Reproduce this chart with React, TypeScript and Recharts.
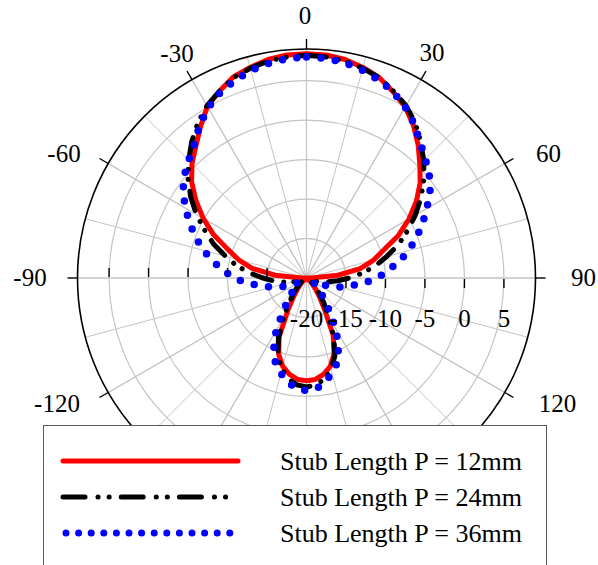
import React from "react";
import {
  RadarChart,
  Radar,
  PolarGrid,
  PolarAngleAxis,
  PolarRadiusAxis,
} from "recharts";

// angle in degrees, clockwise from the top
const angles = [
  0, 5, 10, 15, 20, 25, 30, 35, 40, 45, 50, 55, 60, 65, 70, 75, 80, 85,
  90, 95, 100, 105, 110, 115, 120, 125, 130, 135, 140, 145, 150, 155, 160, 165, 170, 175,
  180, 185, 190, 195, 200, 205, 210, 215, 220, 225, 230, 235, 240, 245, 250, 255, 260, 265,
  270, 275, 280, 285, 290, 295, 300, 305, 310, 315, 320, 325, 330, 335, 340, 345, 350, 355,
];

// gain in dB
const stub12 = [
  8.4, 8.35, 8.1, 7.6, 7.0, 6.0, 5.0, 3.6, 2.0, 0.3, -1.2, -3.0, -5.0, -7.1, -9.6, -11.2, -13.1, -16.0,
  -19.4, -20, -20, -20, -20, -20, -20, -19.8, -19.5, -19.0, -18.2, -17.2, -15.5, -12.0, -9.8, -8.4, -7.6, -7.1,
  -7.0, -7.1, -7.6, -8.4, -9.7, -11.8, -15.3, -17.2, -18.2, -19.0, -19.5, -19.8, -20, -20, -20, -20, -20, -20,
  -19.4, -16.0, -13.0, -11.1, -9.4, -7.0, -4.9, -2.9, -1.0, 0.5, 1.8, 3.4, 5.1, 6.1, 7.1, 7.6, 8.1, 8.35,
];

const stub24 = [
  8.2, 8.1, 7.9, 7.5, 7.0, 6.1, 5.2, 4.0, 2.5, 1.0, -0.6, -2.3, -4.1, -5.9, -7.6, -9.5, -11.1, -12.9,
  -14.6, -16.0, -17.2, -18.1, -18.8, -19.3, -19.5, -19.4, -19.0, -18.4, -17.5, -16.2, -14.4, -11.8, -9.5, -8.0, -7.0, -6.4,
  -6.2, -6.4, -7.0, -8.0, -9.4, -11.6, -14.2, -16.1, -17.4, -18.3, -18.9, -19.3, -19.5, -19.3, -18.8, -18.0, -17.0, -15.8,
  -14.5, -12.8, -11.0, -9.4, -7.5, -5.8, -3.9, -2.1, -0.4, 1.1, 2.6, 4.0, 5.2, 6.1, 7.0, 7.5, 7.9, 8.1,
];

const stub36 = [
  8.0, 7.9, 7.7, 7.25, 6.7, 6.0, 5.0, 3.8, 2.4, 1.3, 0.3, -0.9, -2.4, -3.8, -5.2, -6.6, -8.1, -9.7,
  -11.0, -12.7, -14.3, -15.6, -17.0, -18.3, -19.0, -18.8, -18.3, -17.5, -16.5, -15.0, -12.6, -10.4, -8.6, -7.5, -6.6, -5.9,
  -5.75, -5.9, -6.6, -7.5, -8.5, -10.2, -12.3, -14.8, -16.4, -17.4, -18.2, -18.7, -18.9, -18.2, -16.9, -15.5, -14.2, -12.5,
  -10.8, -9.5, -8.0, -6.5, -5.1, -3.7, -2.3, -0.9, 0.2, 1.1, 2.1, 3.6, 4.9, 5.9, 6.6, 7.2, 7.6, 7.9,
];

const angleTicks = [0, 30, 60, 90, 120, 150, 180, 210, 240, 270, 300, 330];
const radiusTicks = [-20, -15, -10, -5, 0, 5];
const innerSpokes = [0, 15, 30, 45, 60, 75, 90, 105, 120, 135, 150, 165, 180, 195, 210, 225, 240, 255, 270, 285, 300, 315, 330, 345];

const legendItems = [
  "Stub Length P = 12mm",
  "Stub Length P = 24mm",
  "Stub Length P = 36mm",
];

const data = angles.map((a, i) => ({
  angle: a,
  p12: stub12[i],
  p24: stub24[i],
  p36: stub36[i],
}));

const CX = 306.5;
const CY = 278;
const R = 229;
const FONT = '"Liberation Serif", "Times New Roman", serif';
const BLACK_DASH = "20 12 0.1 10 0.1 12";
const BLUE_DOTS = "0 14.5";

// label centre offsets from the pole, per displayed angle
const labelOffset: Record<number, [number, number]> = {
  0: [-1.5, -263],
  30: [125.5, -226],
  [-30]: [-129.5, -225],
  60: [242, -125],
  [-60]: [-242.5, -125],
  90: [277, -1],
  [-90]: [-276.5, -1],
  120: [251, 125.5],
  [-120]: [-249.5, 125.5],
};

const AngleTick = (props: any) => {
  const { payload } = props;
  const v = payload.value as number;
  const shown = v > 180 ? v - 360 : v;
  const off = labelOffset[shown];
  // labels at 150 / 180 / -150 sit behind the legend box
  if (!off) return null;
  return (
    <text
      x={CX + off[0]}
      y={CY + off[1]}
      textAnchor="middle"
      dominantBaseline="central"
      fontFamily={FONT}
      fontSize={25}
      fill="#000"
    >
      {shown}
    </text>
  );
};

const RadiusTick = (props: any) => {
  const { x, y, payload } = props;
  const dx = x - CX;
  const v = payload.value as number;
  return (
    <g>
      {v !== -20 && (
        <line x1={x} y1={y + 1} x2={x} y2={y + 10} stroke="#000" strokeWidth={1.4} />
      )}
      {v !== -20 && (
        <line x1={CX - dx} y1={y - 10} x2={CX - dx} y2={y - 1} stroke="#000" strokeWidth={1.4} />
      )}
      <text
        x={x}
        y={y + 40}
        textAnchor="middle"
        dominantBaseline="central"
        fontFamily={FONT}
        fontSize={25}
        fill="#000"
      >
        {v}
      </text>
    </g>
  );
};

export default function App() {
  return (
    <div
      style={{
        position: "absolute",
        left: 0,
        top: 0,
        width: 598,
        height: 565,
        overflow: "hidden",
        background: "#fff",
      }}
    >
      <RadarChart
        width={598}
        height={565}
        data={data}
        cx={CX}
        cy={CY}
        outerRadius={R}
        startAngle={90}
        endAngle={-270}
        margin={{ top: 0, right: 0, bottom: 0, left: 0 }}
      >
        <PolarGrid gridType="circle" stroke="#c4c4c4" strokeWidth={1.2} />
        <PolarGrid
          gridType="circle"
          polarAngles={innerSpokes}
          polarRadius={[R * 5 / 28.9]}
          outerRadius={R * 5 / 28.9}
          stroke="#c4c4c4"
          strokeWidth={1}
        />
        <PolarAngleAxis
          dataKey="angle"
          type="number"
          domain={[0, 360]}
          ticks={angleTicks}
          axisLineType="circle"
          axisLine={{ stroke: "#000", strokeWidth: 1.6 }}
          tickLine={{ stroke: "#000", strokeWidth: 1.4 }}
          tickSize={10}
          tick={AngleTick}
        />
        <PolarRadiusAxis
          angle={0}
          type="number"
          domain={[-20, 8.9]}
          ticks={radiusTicks}
          allowDataOverflow
          axisLine={false}
          tick={RadiusTick}
        />
        <Radar
          dataKey="p12"
          stroke="#ff0000"
          strokeWidth={5}
          fill="none"
          fillOpacity={0}
          strokeLinejoin="round"
          dot={false}
          isAnimationActive={false}
        />
        <Radar
          dataKey="p24"
          stroke="#000000"
          strokeWidth={5}
          strokeDasharray={BLACK_DASH}
          strokeLinecap="round"
          fill="none"
          fillOpacity={0}
          dot={false}
          isAnimationActive={false}
        />
        <Radar
          dataKey="p36"
          stroke="#0000ff"
          strokeWidth={7.5}
          strokeDasharray={BLUE_DOTS}
          strokeLinecap="round"
          fill="none"
          fillOpacity={0}
          dot={false}
          isAnimationActive={false}
        />
      </RadarChart>

      <div
        style={{
          position: "absolute",
          left: 43,
          top: 425,
          width: 502,
          height: 145,
          border: "1.5px solid #5a5a5a",
          background: "#fff",
        }}
      >
        <svg width={502} height={145} style={{ display: "block" }}>
          <line x1={19} y1={35} x2={194} y2={35} stroke="#ff0000" strokeWidth={5} strokeLinecap="round" />
          <line
            x1={19}
            y1={71}
            x2={184}
            y2={71}
            stroke="#000"
            strokeWidth={5}
            strokeDasharray="22 13 0.1 11 0.1 12"
            strokeLinecap="round"
          />
          <line
            x1={22}
            y1={107}
            x2={188}
            y2={107}
            stroke="#0000ff"
            strokeWidth={7}
            strokeDasharray="0 12.6"
            strokeLinecap="round"
          />
          {legendItems.map((t, i) => (
            <text
              key={t}
              x={236}
              y={35 + i * 36}
              dominantBaseline="central"
              fontFamily={FONT}
              fontSize={26}
              fill="#000"
            >
              {t}
            </text>
          ))}
        </svg>
      </div>
    </div>
  );
}
